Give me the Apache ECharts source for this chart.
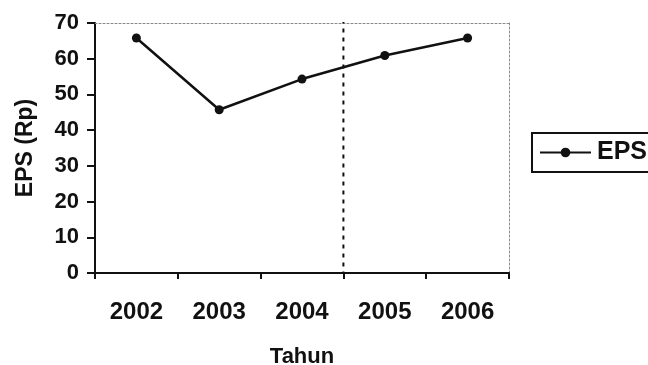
<!DOCTYPE html>
<html>
<head>
<meta charset="utf-8">
<title>EPS</title>
<script src="https://cdn.jsdelivr.net/npm/echarts@6/dist/echarts.min.js"></script>
<style>
  html, body { margin: 0; padding: 0; background: #ffffff; }
  #chart { width: 648px; height: 365px; }
</style>
</head>
<body>
<div id="chart"></div>
<script>
// Earnings per share by year
const years = ['2002', '2003', '2004', '2005', '2006'];
const epsValues = [65.8, 45.7, 54.3, 60.9, 65.8];
const seriesName = 'EPS';
const yTicks = { min: 0, max: 70, step: 10 };
// the dashed divider sits on the boundary before this category
const dividerBefore = '2005';

const FONT = '"Liberation Sans", Arial, sans-serif';
const dividerPos = years.indexOf(dividerBefore);   // band boundary on a 0..n scale

const chart = echarts.init(document.getElementById('chart'), null, { renderer: 'canvas' });

chart.setOption({
  backgroundColor: '#ffffff',
  animation: false,
  grid: { left: 95, right: 139, top: 23, bottom: 92, containLabel: false, outerBoundsMode: 'none' },
  legend: {
    left: 532,
    top: 133,
    orient: 'horizontal',
    data: [seriesName],
    borderColor: '#111',
    borderWidth: 2,
    borderRadius: 0,
    padding: [7, 30, 7, 7],
    itemWidth: 51,
    itemHeight: 12,
    itemGap: 0,
    textStyle: { fontFamily: FONT, fontWeight: 'bold', fontSize: 25, color: '#111', padding: [0, 0, 0, 1] }
  },
  xAxis: [
    {
      type: 'category',
      data: years,
      boundaryGap: true,
      position: 'bottom',
      axisLine: { show: true, onZero: false, lineStyle: { color: '#111', width: 2 } },
      axisTick: { show: true, length: 6, lineStyle: { color: '#111', width: 2 } },
      axisLabel: { fontFamily: FONT, fontWeight: 'bold', fontSize: 24, color: '#111', margin: 27 },
      splitLine: { show: false },
      name: 'Tahun',
      nameLocation: 'middle',
      nameGap: 73,
      nameTextStyle: { fontFamily: FONT, fontWeight: 'bold', fontSize: 22, color: '#111' }
    },
    {
      // dotted frame along the top of the plot
      type: 'category',
      data: years,
      position: 'top',
      axisLine: { show: true, onZero: false, lineStyle: { color: '#888', width: 1, type: [2, 2] } },
      axisTick: { show: false },
      axisLabel: { show: false },
      splitLine: { show: false }
    },
    {
      // band-boundary scale used to place the divider
      type: 'value',
      min: 0,
      max: years.length,
      show: false
    }
  ],
  yAxis: [
    {
      type: 'value',
      min: yTicks.min,
      max: yTicks.max,
      interval: yTicks.step,
      axisLine: { show: true, onZero: false, lineStyle: { color: '#111', width: 2 } },
      axisTick: { show: true, length: 8, lineStyle: { color: '#111', width: 2 } },
      axisLabel: { fontFamily: FONT, fontWeight: 'bold', fontSize: 22, color: '#111', margin: 16 },
      splitLine: { show: false },
      name: 'EPS (Rp)',
      nameLocation: 'middle',
      nameGap: 58,
      nameRotate: 90,
      nameTextStyle: { fontFamily: FONT, fontWeight: 'bold', fontSize: 23, color: '#111' }
    },
    {
      // dotted frame along the right of the plot
      type: 'value',
      position: 'right',
      min: yTicks.min,
      max: yTicks.max,
      interval: yTicks.step,
      axisLine: { show: true, onZero: false, lineStyle: { color: '#888', width: 1, type: [2, 2] } },
      axisTick: { show: false },
      axisLabel: { show: false },
      splitLine: { show: false }
    }
  ],
  series: [
    {
      name: seriesName,
      type: 'line',
      xAxisIndex: 0,
      yAxisIndex: 0,
      data: epsValues,
      symbol: 'circle',
      symbolSize: 9,
      lineStyle: { color: '#111', width: 2.5 },
      itemStyle: { color: '#111' },
      z: 3
    },
    {
      name: 'divider',
      type: 'line',
      xAxisIndex: 2,
      yAxisIndex: 0,
      data: [[dividerPos, yTicks.max + 1], [dividerPos, yTicks.min]],
      symbol: 'none',
      silent: true,
      lineStyle: { color: '#111', width: 2, type: [4, 5] },
      z: 2
    }
  ]
});
</script>
</body>
</html>
